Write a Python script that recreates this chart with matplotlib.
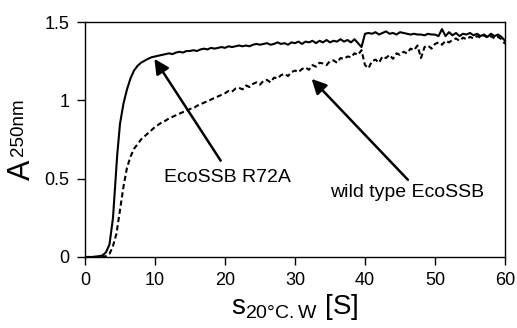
import numpy as np
import matplotlib
matplotlib.use("Agg")
import matplotlib.pyplot as plt

plt.rcParams['font.family'] = ['Liberation Sans', 'DejaVu Sans']
plt.rcParams['mathtext.fontset'] = 'custom'
plt.rcParams['mathtext.rm'] = 'Liberation Sans'

# EcoSSB R72A (solid) - rise part
s_mut_rise = [0, 1, 2, 2.5, 3, 3.5, 4, 4.3, 4.6, 5, 5.5, 6, 6.5, 7, 7.5, 8, 9, 9.5]
a_mut_rise = [0, 0, 0.005, 0.01, 0.03, 0.08, 0.25, 0.45, 0.65, 0.85, 0.98, 1.07,
              1.14, 1.19, 1.22, 1.24, 1.265, 1.275]
# plateau, s = 10 ... 60 in steps of 0.5
s_plateau = np.arange(10, 60.5, 0.5)
a_mut_plateau = [
    1.28, 1.285, 1.29, 1.295, 1.30, 1.295, 1.305, 1.31, 1.305, 1.315,
    1.315, 1.32, 1.315, 1.325, 1.33, 1.325, 1.335, 1.33, 1.335, 1.34,
    1.335, 1.345, 1.34, 1.345, 1.35, 1.345, 1.35, 1.345, 1.355, 1.36,
    1.355, 1.36, 1.365, 1.355, 1.36, 1.37, 1.36, 1.365, 1.355, 1.37,
    1.365, 1.375, 1.36, 1.375, 1.37, 1.38, 1.365, 1.38, 1.37, 1.385,
    1.37, 1.38, 1.375, 1.39, 1.375, 1.385, 1.37, 1.39, 1.365, 1.34,
    1.425, 1.43, 1.425, 1.435, 1.42, 1.43, 1.44, 1.425, 1.43, 1.42,
    1.435, 1.43, 1.425, 1.42, 1.425, 1.42, 1.42, 1.415, 1.425, 1.42,
    1.42, 1.41, 1.455, 1.41, 1.435, 1.415, 1.43, 1.41, 1.425, 1.42,
    1.43, 1.415, 1.425, 1.41, 1.42, 1.405, 1.425, 1.41, 1.42, 1.405,
    1.38]

# wild type EcoSSB (dashed)
s_wt_rise = [0, 1, 2, 3, 3.5, 4, 4.5, 5, 5.5, 6, 6.5, 7, 7.5, 8, 8.5, 9, 9.5]
a_wt_rise = [0, 0, 0, 0.005, 0.02, 0.07, 0.15, 0.3, 0.45, 0.57, 0.64, 0.69,
             0.72, 0.75, 0.77, 0.79, 0.81]
a_wt_plateau = [
    0.83, 0.845, 0.86, 0.87, 0.885, 0.895, 0.905, 0.915, 0.925, 0.93,
    0.945, 0.95, 0.965, 0.975, 0.985, 0.995, 1.005, 1.015, 1.025, 1.035,
    1.045, 1.06, 1.055, 1.075, 1.08, 1.07, 1.095, 1.085, 1.105, 1.115,
    1.1, 1.125, 1.13, 1.115, 1.145, 1.14, 1.16, 1.17, 1.155, 1.18,
    1.19, 1.18, 1.2, 1.21, 1.195, 1.225, 1.215, 1.24, 1.235, 1.225,
    1.25, 1.255, 1.24, 1.27, 1.265, 1.28, 1.275, 1.3, 1.29, 1.32,
    1.225, 1.205, 1.25, 1.26, 1.24, 1.28, 1.27, 1.29, 1.265, 1.3,
    1.29, 1.31, 1.3, 1.33, 1.32, 1.35, 1.27, 1.34, 1.35, 1.33,
    1.36, 1.37, 1.355, 1.38, 1.37, 1.385, 1.395, 1.38, 1.4, 1.39,
    1.405, 1.395, 1.41, 1.4, 1.415, 1.4, 1.41, 1.395, 1.405, 1.39,
    1.36]

s_mut = np.concatenate([s_mut_rise, s_plateau])
a_mut = np.concatenate([a_mut_rise, a_mut_plateau])
s_wt = np.concatenate([s_wt_rise, s_plateau])
a_wt = np.concatenate([a_wt_rise, a_wt_plateau])

fig = plt.figure(figsize=(5.17, 3.28), dpi=100)
ax = fig.add_axes([0.1644, 0.2165, 0.8124, 0.7164])

ax.plot(s_mut, a_mut, color='black', lw=1.5)
ax.plot(s_wt, a_wt, color='black', lw=1.5, linestyle=(0, (2.5, 1.5)))

# Pfeile og tekst
ax.annotate('', xy=(9.7, 1.28), xytext=(19.6, 0.60),
            arrowprops=dict(arrowstyle='-|>', color='black', lw=1.8, mutation_scale=22))
ax.annotate('', xy=(32.1, 1.15), xytext=(46.4, 0.48),
            arrowprops=dict(arrowstyle='-|>', color='black', lw=1.8, mutation_scale=22))
ax.text(20.4, 0.51, 'EcoSSB R72A', fontsize=14, ha='center', va='center')
ax.text(46.0, 0.41, 'wild type EcoSSB', fontsize=14, ha='center', va='center')

ax.set_xlim(0, 60)
ax.set_ylim(0, 1.5)
ax.set_xticks([0, 10, 20, 30, 40, 50, 60])
ax.set_yticks([0, 0.5, 1, 1.5])
ax.set_yticklabels(['0', '0.5', '1', '1.5'])
ax.tick_params(direction='out', length=6, width=1, labelsize=13, pad=5)
ax.tick_params(axis='x', top=False)
ax.tick_params(axis='y', right=False)
for sp in ax.spines.values():
    sp.set_linewidth(1)

ax.set_xlabel(r's$_{\mathregular{20°C.W}}$ [S]', fontsize=20, labelpad=2)
# y-aksen: "A" med hevet "250nm"
fig.text(0.0426, 0.483, 'A', fontsize=22, rotation=90, ha='center', va='center')
fig.text(0.0358, 0.6128, '250nm', fontsize=13.5, rotation=90, ha='center', va='center')

fig.savefig('out.png', dpi=100)
